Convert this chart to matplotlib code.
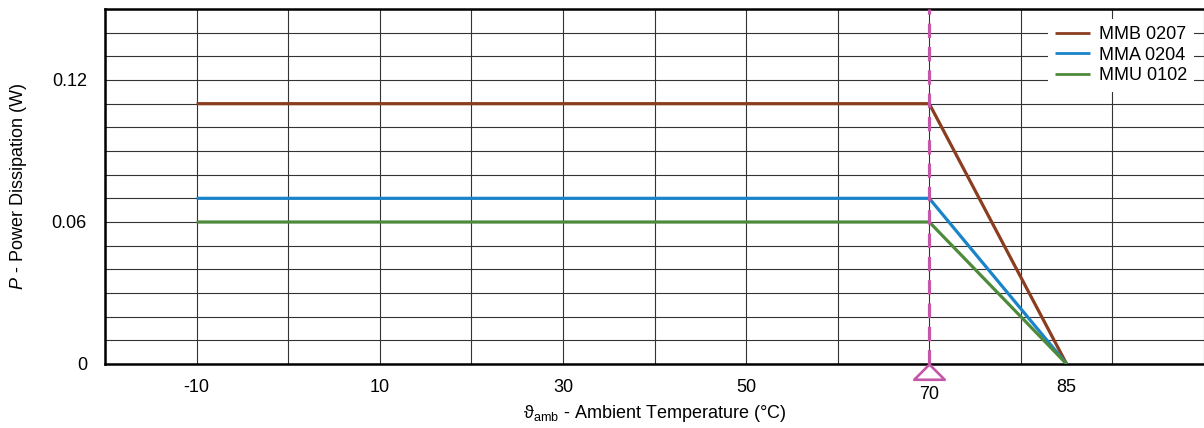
import matplotlib.pyplot as plt
from matplotlib.path import Path
from matplotlib.ticker import FixedLocator

plt.rcParams['font.family'] = ['Liberation Sans', 'DejaVu Sans']
plt.rcParams['mathtext.fontset'] = 'custom'
plt.rcParams['mathtext.rm'] = 'Liberation Sans'
plt.rcParams['mathtext.it'] = 'Liberation Sans:italic'

# Derating curves: P (W) vs ambient temperature (deg C)
temps = [-10, 70, 85]
series = {
    'MMB 0207': [0.11, 0.11, 0.0],
    'MMA 0204': [0.07, 0.07, 0.0],
    'MMU 0102': [0.06, 0.06, 0.0],
}
line_colors = ['#8B3E1F', '#1A84C8', '#4E8A3B']

x_ticks = [-10, 10, 30, 50, 70, 85]
x_grid = list(range(-20, 101, 10))
y_ticks = [0, 0.06, 0.12]
y_labels = ['0', '0.06', '0.12']
y_grid = [i / 100 for i in range(0, 16)]
rated_temp = 70
MAGENTA = '#C457A8'

fig = plt.figure(figsize=(12.04, 4.28), dpi=100)
ax = fig.add_axes([105 / 1204, 1 - 364 / 428, 1 - 105 / 1204, (364 - 9) / 428])

for (name, vals), c in zip(series.items(), line_colors):
    ax.plot(temps, vals, color=c, lw=2.3, label=name, solid_capstyle='butt', zorder=3)

# rated temperature marker
ax.axvline(rated_temp, color=MAGENTA, lw=2.3, dashes=(4.5, 2.8), zorder=4)
tri = Path([(0, 0), (-1, -1), (1, -1), (0, 0)], closed=True)
ax.plot([rated_temp], [0], marker=tri, markersize=22, markerfacecolor='white',
        markeredgecolor=MAGENTA, markeredgewidth=1.9, clip_on=False, zorder=5)

ax.set_xlim(-20, 100)
ax.set_ylim(0, 0.15)
ax.set_xticks(x_ticks)
ax.set_xticklabels([str(t) for t in x_ticks])
ax.set_yticks(y_ticks)
ax.set_yticklabels(y_labels)
ax.xaxis.set_minor_locator(FixedLocator(x_grid))
ax.yaxis.set_minor_locator(FixedLocator(y_grid))
ax.xaxis.remove_overlapping_locs = False
ax.yaxis.remove_overlapping_locs = False
ax.grid(False, which='major')
ax.grid(True, which='minor', color='#333333', lw=0.8)
ax.tick_params(which='both', length=0, labelsize=13, colors='black')
ax.tick_params(axis='x', pad=11)
ax.tick_params(axis='y', pad=13)
ax.set_axisbelow(True)

# shift the 70 label down under the triangle
for lab, t in zip(ax.get_xticklabels(), x_ticks):
    if t == rated_temp:
        lab.set_y(-0.02)

for s in ['left', 'bottom', 'top']:
    ax.spines[s].set_linewidth(1.8)
ax.spines['right'].set_visible(False)

ax.set_xlabel('ϑ$_{\\mathrm{amb}}$ - Ambient Temperature (°C)', fontsize=13, labelpad=0)
ax.set_ylabel('$P$ - Power Dissipation (W)', fontsize=13, labelpad=16)

leg = ax.legend(loc='upper right', fontsize=13, frameon=True, fancybox=False,
                framealpha=1, edgecolor='white', handlelength=1.9, handletextpad=0.5,
                borderaxespad=0.55, labelspacing=0.2, borderpad=0.4)
leg.get_frame().set_linewidth(0)
for h in leg.get_lines():
    h.set_linewidth(2.0)

fig.savefig('out.png', dpi=100)
